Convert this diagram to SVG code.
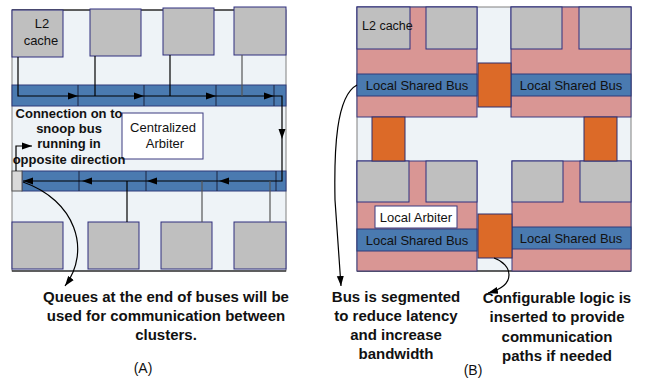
<svg xmlns="http://www.w3.org/2000/svg" width="647" height="379" viewBox="0 0 647 379">
<defs>
<style>
.bg{fill:#eef3f7;stroke:#808080;stroke-width:1}
.box{fill:#bfbfbf;stroke:#2e2e7e;stroke-width:1}
.bus{fill:#4a7ab0;stroke:#2e3a7a;stroke-width:1}
.pink{fill:#d99694;stroke:#3b3b80;stroke-width:1}
.org{fill:#dc6a28;stroke:#2e2e6e;stroke-width:1}
.wb{fill:#ffffff;stroke:#3b3b80;stroke-width:1}
.div{stroke:#1c2440;stroke-width:1}
.ln{stroke:#000;stroke-width:1.2;fill:none}
.gl{stroke:#555;stroke-width:1.2;fill:none}
.t{font-family:"Liberation Sans",Arial,sans-serif;font-size:13px;fill:#111}
.c{text-anchor:middle}
.b{font-family:"Liberation Sans",Arial,sans-serif;font-weight:bold;font-size:15px;fill:#111;text-anchor:middle}
.bs{font-family:"Liberation Sans",Arial,sans-serif;font-weight:bold;font-size:13px;fill:#111;text-anchor:middle}
</style>
<marker id="ah" markerUnits="userSpaceOnUse" markerWidth="10" markerHeight="8" refX="10" refY="4" orient="auto">
<path d="M0,0.5 L10,4 L0,7.5 z" fill="#000"/>
</marker>
</defs>

<!-- Panel A -->
<g id="panelA-frame">
<rect x="12" y="10" width="274" height="261" class="bg"/>
<line x1="12" y1="10" x2="286" y2="10" stroke="#000" stroke-width="1"/>
<line x1="12" y1="271" x2="286" y2="271" stroke="#000" stroke-width="1.2"/>
</g>
<g id="A-top-bus">
<rect x="12" y="85" width="274" height="21" class="bus"/>
<line x1="78" y1="85" x2="78" y2="106" class="div"/>
<line x1="144" y1="85" x2="144" y2="106" class="div"/>
<line x1="216" y1="85" x2="216" y2="106" class="div"/>
<line x1="274" y1="85" x2="274" y2="106" class="div"/>
</g>
<g id="A-bottom-bus">
<rect x="22" y="171" width="264" height="20" class="bus"/>
<line x1="79" y1="171" x2="79" y2="191" class="div"/>
<line x1="146" y1="171" x2="146" y2="191" class="div"/>
<line x1="217" y1="171" x2="217" y2="191" class="div"/>
<line x1="276" y1="171" x2="276" y2="191" class="div"/>
</g>
<g id="A-queue"><rect x="12" y="171" width="10" height="20" fill="#d9d9d9" stroke="#555" stroke-width="1"/></g>
<g id="A-l2"><rect x="12" y="10" width="51" height="47" class="box"/>
<text x="42" y="28" class="t c">L2</text><text x="41" y="45" class="t c">cache</text></g>
<g id="A-top2"><rect x="90" y="9" width="51" height="47" class="box"/></g>
<g id="A-top3"><rect x="163" y="8" width="51" height="47" class="box"/></g>
<g id="A-top4"><rect x="234" y="7" width="52" height="48" class="box"/></g>
<g id="A-bot1"><rect x="12" y="222" width="51" height="47" class="box"/></g>
<g id="A-bot2"><rect x="88" y="222" width="51" height="47" class="box"/></g>
<g id="A-bot3"><rect x="161" y="222" width="51" height="47" class="box"/></g>
<g id="A-bot4"><rect x="234" y="222" width="52" height="47" class="box"/></g>
<g id="A-arbiter"><rect x="122" y="113" width="81" height="46" class="wb"/>
<text x="163" y="132" class="t c">Centralized</text><text x="165" y="148" class="t c">Arbiter</text></g>
<g id="A-note">
<text x="69" y="118" class="bs">Connection on to</text>
<text x="69" y="133" class="bs">snoop bus</text>
<text x="69" y="148" class="bs">running in</text>
<text x="69" y="164" class="bs">opposite direction</text>
</g>

<!-- Panel B -->
<g id="panelB-frame">
<rect x="357" y="7" width="274" height="264" class="bg"/>
<line x1="357" y1="271" x2="631" y2="271" stroke="#000" stroke-width="1.2"/>
</g>
<g id="B-cluster-tl">
<rect x="357" y="7" width="120" height="110" class="pink"/>
<rect x="357" y="7" width="53" height="42" class="box"/>
<rect x="426" y="7" width="51" height="42" class="box"/>
<text x="362" y="30" class="t" style="font-size:12.5px">L2 cache</text>
<rect x="357" y="74" width="120" height="22" class="bus"/>
<text x="417" y="90" class="t c">Local Shared Bus</text>
</g>
<g id="B-cluster-tr">
<rect x="511" y="7" width="120" height="110" class="pink"/>
<rect x="511" y="7" width="51" height="42" class="box"/>
<rect x="579" y="7" width="52" height="42" class="box"/>
<rect x="511" y="74" width="120" height="22" class="bus"/>
<text x="571" y="90" class="t c">Local Shared Bus</text>
</g>
<g id="B-cluster-bl">
<rect x="357" y="161" width="120" height="110" class="pink"/>
<rect x="357" y="161" width="52" height="41" class="box"/>
<rect x="426" y="161" width="51" height="41" class="box"/>
<rect x="375" y="206" width="82" height="22" class="wb"/>
<text x="416" y="222" class="t c">Local Arbiter</text>
<rect x="357" y="229" width="120" height="22" class="bus"/>
<text x="417" y="245" class="t c">Local Shared Bus</text>
</g>
<g id="B-cluster-br">
<rect x="512" y="161" width="119" height="110" class="pink"/>
<rect x="512" y="161" width="51" height="41" class="box"/>
<rect x="580" y="161" width="51" height="41" class="box"/>
<rect x="512" y="227" width="119" height="22" class="bus"/>
<text x="571" y="243" class="t c">Local Shared Bus</text>
</g>
<g id="B-logic-top"><rect x="478" y="63" width="33" height="44" class="org"/></g>
<g id="B-logic-left"><rect x="372" y="117" width="33" height="44" class="org"/></g>
<g id="B-logic-right"><rect x="584" y="117" width="33" height="44" class="org"/></g>
<g id="B-logic-bottom"><rect x="478" y="214" width="34" height="44" class="org"/></g>

<!-- Connectors -->
<g id="connectors">
<path d="M18,57 V96 H78" class="ln" marker-end="url(#ah)"/>
<path d="M78,96 H144" class="ln" marker-end="url(#ah)"/>
<path d="M144,96 H216" class="ln" marker-end="url(#ah)"/>
<path d="M216,96 H274" class="ln" marker-end="url(#ah)"/>
<path d="M274,96 H282 V139" class="ln" marker-end="url(#ah)"/>
<path d="M282,139 V181 H219" class="ln" marker-end="url(#ah)"/>
<path d="M219,181 H147" class="ln" marker-end="url(#ah)"/>
<path d="M147,181 H82" class="ln" marker-end="url(#ah)"/>
<path d="M82,181 H23" class="ln" marker-end="url(#ah)"/>
<path d="M95,56 V96" class="ln"/>
<path d="M170,55 V96" class="ln"/>
<path d="M242,55 V96" class="gl"/>
<path d="M127,181 V222" class="ln"/>
<path d="M202,181 V222" class="gl"/>
<path d="M270,181 V222" class="gl"/>
<path d="M16,171 V146 H32" class="ln" marker-end="url(#ah)"/>
<path d="M23,182 C75,200 92,250 65,286" class="ln" marker-end="url(#ah)"/>
<path d="M357,85 C336,96 334,150 335,200 L341,286" class="ln" marker-end="url(#ah)"/>
<path d="M494,258 C512,264 518,285 488,293" class="ln" marker-end="url(#ah)"/>
</g>

<g id="labels">
<text x="166" y="302" class="b">Queues at the end of buses will be</text>
<text x="166" y="321" class="b">used for communication between</text>
<text x="166" y="340" class="b">clusters.</text>
<text x="143" y="373" class="t c" style="font-size:14px">(A)</text>
<text x="396" y="302" class="b">Bus is segmented</text>
<text x="396" y="321" class="b">to reduce latency</text>
<text x="396" y="340" class="b">and increase</text>
<text x="396" y="359" class="b">bandwidth</text>
<text x="557" y="303" class="b">Configurable logic is</text>
<text x="557" y="322" class="b">inserted to provide</text>
<text x="557" y="342" class="b">communication</text>
<text x="557" y="361" class="b">paths if needed</text>
<text x="473" y="375" class="t c" style="font-size:14px">(B)</text>
</g>
</svg>
